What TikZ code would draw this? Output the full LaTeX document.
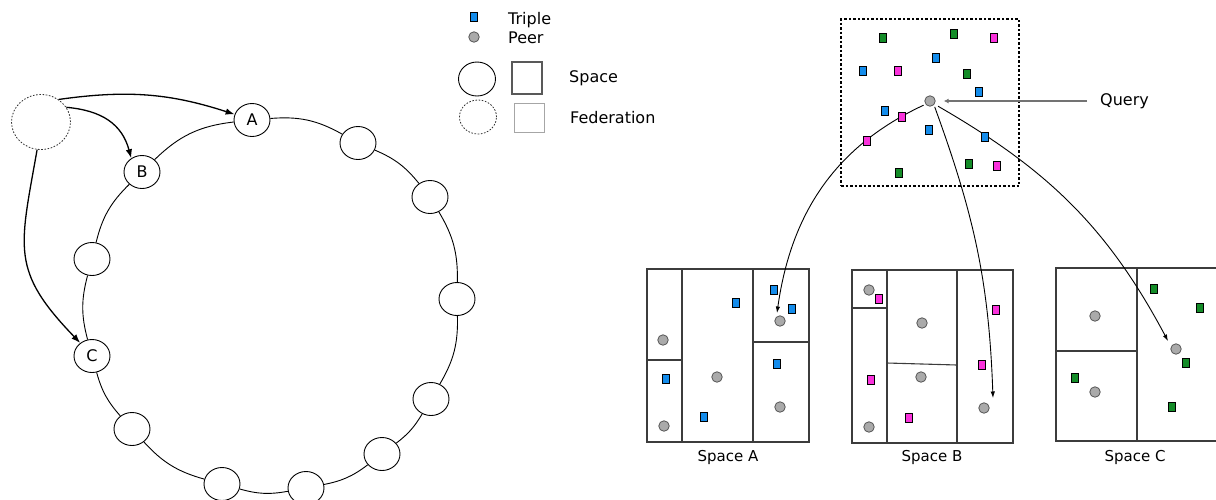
\documentclass[tikz,border=0pt]{standalone}
\usepackage{fontspec}
\setmainfont{DejaVu Sans}
\usetikzlibrary{arrows.meta,shapes.geometric,calc}
\definecolor{tripleblue}{RGB}{20,140,235}
\definecolor{triplegreen}{RGB}{20,140,40}
\definecolor{triplemag}{RGB}{250,50,220}
\definecolor{peerfill}{RGB}{170,170,170}
\definecolor{peerline}{RGB}{85,85,85}
\definecolor{spaceline}{RGB}{60,60,60}
\begin{document}
\begin{tikzpicture}[x=1pt,y=-1pt,
  every node/.style={font=\fontsize{16}{19}\selectfont},
  ringnode/.style={ellipse, draw=black, line width=0.9pt, fill=white,
    minimum width=36pt, minimum height=33pt, inner sep=0pt},
  fednode/.style={ellipse, draw=black!80, line width=0.8pt,
    dash pattern=on 1.6pt off 1.6pt, inner sep=0pt},
  ringlink/.style={draw=black, line width=0.9pt},
  fedarrow/.style={line width=1.3pt, -{Latex[length=9pt,width=6.5pt]}},
  triple/.style={rectangle, draw=black, line width=0.8pt,
    minimum width=7pt, minimum height=8.5pt, inner sep=0pt},
  peer/.style={circle, draw=peerline, fill=peerfill, line width=0.8pt,
    minimum size=10.5pt, inner sep=0pt},
  spacebox/.style={draw=spaceline, line width=1.2pt},
  split/.style={draw=spaceline, line width=1.1pt},
  routearrow/.style={line width=0.9pt, -{Latex[length=6.5pt,width=4.5pt]}, shorten <=2pt},
  legendtext/.style={anchor=base west, inner sep=0pt},
  spacelabel/.style={anchor=base, inner sep=0pt, font=\fontsize{15}{18}\selectfont},
]
\useasboundingbox (0,0) rectangle (1216,499);

% ---------- ring of spaces ----------
\node[ringnode] (A)  at (252,120) {A};
\node[ringnode] (r1) at (358,143) {};
\node[ringnode] (r2) at (430,197) {};
\node[ringnode] (r3) at (457,299) {};
\node[ringnode] (r4) at (431,399) {};
\node[ringnode] (r5) at (382,454) {};
\node[ringnode] (r6) at (306,488) {};
\node[ringnode] (r7) at (222,484) {};
\node[ringnode] (r8) at (132,429) {};
\node[ringnode] (C)  at (92,356) {C};
\node[ringnode] (r9) at (92,259) {};
\node[ringnode] (B)  at (142,172) {B};

\draw[ringlink] (A)  to[bend left=17] (r1);
\draw[ringlink] (r1) to[bend left=14] (r2);
\draw[ringlink] (r2) to[bend left=16] (r3);
\draw[ringlink] (r3) to[bend left=16] (r4);
\draw[ringlink] (r4) to[bend left=11] (r5);
\draw[ringlink] (r5) to[bend left=13] (r6);
\draw[ringlink] (r6) to[bend left=13] (r7);
\draw[ringlink] (r7) to[bend left=16] (r8);
\draw[ringlink] (r8) to[bend left=13] (C);
\draw[ringlink] (C)  to[bend left=15] (r9);
\draw[ringlink] (r9) to[bend left=16] (B);
\draw[ringlink] (B)  to[bend left=19] (A);

% federation entry point
\node[fednode, minimum width=59pt, minimum height=55pt] (fed) at (41,122) {};
\draw[fedarrow] (fed.52)  to[out=8, in=162] (A);
\draw[fedarrow] (fed.30)  to[out=-5, in=105, looseness=1.1] (B.128);
\draw[fedarrow] (fed.262) to[out=-100, in=134, looseness=1.3] (C.132);

% ---------- legend ----------
\node[triple, fill=tripleblue] (lgt) at (474,17) {};
\node[peer] (lgp) at (474,37) {};
\node[legendtext] (lgtt) at (508,24) {Triple};
\node[legendtext] (lgpt) at (508,43) {Peer};
\node[ellipse, draw=black, line width=0.9pt, minimum width=37pt, minimum height=34pt, inner sep=0pt] (lgs) at (477,79) {};
\node[draw=black!65, line width=1.2pt, minimum width=30pt, minimum height=32pt, inner sep=0pt] (lgsq) at (527,78) {};
\node[fednode, minimum width=37pt, minimum height=34pt] (lgf) at (478,117) {};
\node[draw=black!35, line width=1pt, minimum width=30pt, minimum height=29pt, inner sep=0pt] (lgfq) at (529,118) {};
\node[legendtext] (lgst) at (569,82) {Space};
\node[legendtext] (lgft) at (570,123) {Federation};

% ---------- federation view ----------
\node[draw=black, line width=1.3pt, dash pattern=on 2.5pt off 2pt,
      minimum width=178pt, minimum height=167pt, inner sep=0pt] (fedbox) at (930,102.5) {};
\node[peer] (qpeer) at (930,101) {};

% ---------- space A ----------
\draw[spacebox] (647,269) rectangle (809,442);
\draw[split] (682,269) -- (682,442);
\draw[split] (753,269) -- (753,442);
\draw[split] (647,360) -- (682,360);
\draw[split] (753,342) -- (809,342);
\node[peer] (pA1) at (663,340) {};
\node[peer] (pA2) at (664,426) {};
\node[peer] (pA3) at (717,377) {};
\node[peer] (pA4) at (780,321) {};
\node[peer] (pA5) at (780,407) {};
\foreach \x/\y [count=\i] in {666/379, 736/303, 704/417, 774/290, 792/309, 777/364}
  \node[triple, fill=tripleblue] (tA\i) at (\x,\y) {};
\node[spacelabel] (labA) at (728,461) {Space A};

% ---------- space B ----------
\draw[spacebox] (852,270) rectangle (1013,443);
\draw[split] (887,270) -- (887,443);
\draw[split] (957,270) -- (957,443);
\draw[split] (852,308) -- (887,308);
\draw[split] (887,363) -- (957,365);
\node[peer] (pB1) at (869,290) {};
\node[peer] (pB2) at (869,427) {};
\node[peer] (pB3) at (922,323) {};
\node[peer] (pB4) at (921,377) {};
\node[peer] (pB5) at (984,408) {};
\foreach \x/\y [count=\i] in {879/299, 871/380, 909/418, 996/310, 982/365}
  \node[triple, fill=triplemag] (tB\i) at (\x,\y) {};
\node[spacelabel] (labB) at (932,461) {Space B};

% ---------- space C ----------
\draw[spacebox] (1218,268) -- (1056,268) -- (1056,441) -- (1218,441);
\draw[split] (1137,268) -- (1137,441);
\draw[split] (1056,351) -- (1137,351);
\node[peer] (pC1) at (1095,316) {};
\node[peer] (pC2) at (1095,392) {};
\node[peer] (pC3) at (1176,349) {};
\foreach \x/\y [count=\i] in {1075/378, 1154/289, 1200/308, 1186/363, 1172/407}
  \node[triple, fill=triplegreen] (tC\i) at (\x,\y) {};
\node[spacelabel] (labC) at (1135,461) {Space C};

% ---------- query routing ----------
\coordinate (qA) at ([xshift=-3pt,yshift=8pt]pA4.center);
\coordinate (qB) at ([xshift=9pt,yshift=10pt]pB5.center);
\coordinate (qC) at ([xshift=-8pt,yshift=8pt]pC3.center);
\draw[routearrow] (qpeer.216) to[out=205, in=82] (qA);
\draw[routearrow] (qpeer.-45) to[out=-70, in=92] (qB);
\draw[routearrow, shorten <=4pt] (qpeer.-35) to[out=-30, in=118] (qC);

% triples held by the federation
\foreach \x/\y/\c [count=\i] in {883/38/triplegreen, 954/34/triplegreen, 994/38/triplemag,
    936/58/tripleblue, 863/71/tripleblue, 898/71/triplemag, 967/74/triplegreen,
    979/92/tripleblue, 885/111/tripleblue, 902/117/triplemag, 929/130/tripleblue,
    985/137/tripleblue, 867/141/triplemag, 969/164/triplegreen, 997/166/triplemag,
    899/173/triplegreen}
  \node[triple, fill=\c] (ft\i) at (\x,\y) {};

\node[legendtext] (query) at (1100,105) {Query};
\draw[line width=2pt, draw=black!55, -{Latex[length=5pt,width=5pt]},
      shorten <=13pt, shorten >=8pt] (query.west |- qpeer) -- (qpeer);
\end{tikzpicture}
\end{document}
